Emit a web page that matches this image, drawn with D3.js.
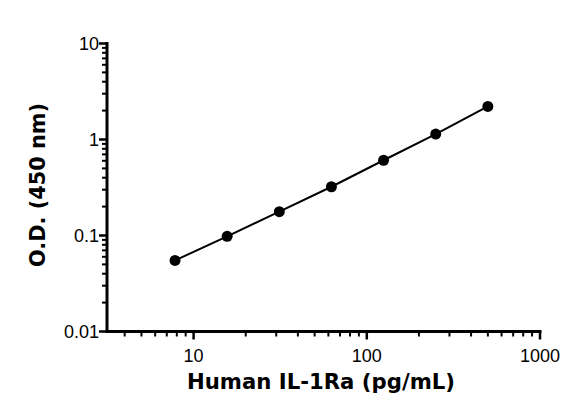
<!DOCTYPE html>
<html>
<head>
<meta charset="utf-8">
<script src="https://cdn.jsdelivr.net/npm/d3@7"></script>
<style>
  body { margin: 0; background: #fff; }
  svg { display: block; }
  .tick-label { font-family: "Liberation Sans", Arial, sans-serif; font-size: 18px; fill: #000; }
  .axis-title { font-family: "DejaVu Sans", sans-serif; font-weight: bold; font-size: 21px; fill: #000; }
</style>
</head>
<body>
<div id="chart"></div>
<script>
// Standard curve: concentration (pg/mL) vs O.D. at 450 nm
const concentrations = [7.8125, 15.625, 31.25, 62.5, 125, 250, 500];
const odValues = [0.055, 0.098, 0.177, 0.322, 0.608, 1.14, 2.21];

const xMajorTicks = [10, 100, 1000];
const yMajorTicks = [0.01, 0.1, 1, 10];
const xTickLabels = ['10', '100', '1000'];
const yTickLabels = ['0.01', '0.1', '1', '10'];

const width = 581;
const height = 413;
const margin = { top: 43.5, right: 41, bottom: 81.5, left: 107 };

const svg = d3.select('#chart')
    .append('svg')
    .attr('width', width)
    .attr('height', height);

const x = d3.scaleLog()
    .domain([Math.pow(10, 0.5), 1000])
    .range([margin.left, width - margin.right]);

const y = d3.scaleLog()
    .domain([0.01, 10])
    .range([height - margin.bottom, margin.top]);

// minor ticks: 2..9 per decade, clipped to the domain
function minorTicks(domain) {
    const out = [];
    for (let e = -3; e <= 3; e++) {
        for (let m = 2; m <= 9; m++) {
            const v = m * Math.pow(10, e);
            if (v > domain[0] * 1.0001 && v < domain[1] * 0.9999) out.push(v);
        }
    }
    return out;
}

const axisY = height - margin.bottom;
const axisX = margin.left;

const axes = svg.append('g').attr('stroke', '#000').attr('fill', 'none');

// x minor ticks
axes.selectAll('.x-minor')
    .data(minorTicks(x.domain()))
    .join('line')
    .attr('x1', d => x(d)).attr('x2', d => x(d))
    .attr('y1', axisY).attr('y2', axisY + 5)
    .attr('stroke-width', 2);

// x major ticks
axes.selectAll('.x-major')
    .data(xMajorTicks)
    .join('line')
    .attr('x1', d => x(d)).attr('x2', d => x(d))
    .attr('y1', axisY).attr('y2', axisY + 8)
    .attr('stroke-width', 2.5);

// y minor ticks
axes.selectAll('.y-minor')
    .data(minorTicks(y.domain()))
    .join('line')
    .attr('x1', axisX - 5).attr('x2', axisX)
    .attr('y1', d => y(d)).attr('y2', d => y(d))
    .attr('stroke-width', 2);

// y major ticks
axes.selectAll('.y-major')
    .data(yMajorTicks)
    .join('line')
    .attr('x1', axisX - 8).attr('x2', axisX)
    .attr('y1', d => y(d)).attr('y2', d => y(d))
    .attr('stroke-width', 2.5);

// axis lines
axes.append('line')
    .attr('x1', axisX - 1.5).attr('x2', x.range()[1] + 1.5)
    .attr('y1', axisY).attr('y2', axisY)
    .attr('stroke-width', 3);
axes.append('line')
    .attr('x1', axisX).attr('x2', axisX)
    .attr('y1', y.range()[1] - 1.5).attr('y2', axisY + 1.5)
    .attr('stroke-width', 3);

// tick labels
svg.selectAll('.x-label')
    .data(xMajorTicks)
    .join('text')
    .attr('class', 'tick-label')
    .attr('x', d => x(d))
    .attr('y', axisY + 30.5)
    .attr('text-anchor', 'middle')
    .text((d, i) => xTickLabels[i]);

svg.selectAll('.y-label')
    .data(yMajorTicks)
    .join('text')
    .attr('class', 'tick-label')
    .attr('x', axisX - 8)
    .attr('y', d => y(d))
    .attr('dy', '0.36em')
    .attr('text-anchor', 'end')
    .text((d, i) => yTickLabels[i]);

// axis titles
svg.append('text')
    .attr('class', 'axis-title')
    .attr('x', 321)
    .attr('y', 388.5)
    .attr('text-anchor', 'middle')
    .attr('textLength', 268)
    .attr('lengthAdjust', 'spacingAndGlyphs')
    .text('Human IL-1Ra (pg/mL)');

svg.append('text')
    .attr('class', 'axis-title')
    .attr('transform', 'translate(45,185) rotate(-90)')
    .attr('text-anchor', 'middle')
    .attr('textLength', 164)
    .attr('lengthAdjust', 'spacingAndGlyphs')
    .text('O.D. (450 nm)');

// data line and points
const points = concentrations.map((c, i) => ({ c, od: odValues[i] }));

svg.append('path')
    .datum(points)
    .attr('fill', 'none')
    .attr('stroke', '#000')
    .attr('stroke-width', 2)
    .attr('d', d3.line().x(d => x(d.c)).y(d => y(d.od)));

svg.selectAll('.pt')
    .data(points)
    .join('circle')
    .attr('cx', d => x(d.c))
    .attr('cy', d => y(d.od))
    .attr('r', 5.5)
    .attr('fill', '#000');
</script>
</body>
</html>
